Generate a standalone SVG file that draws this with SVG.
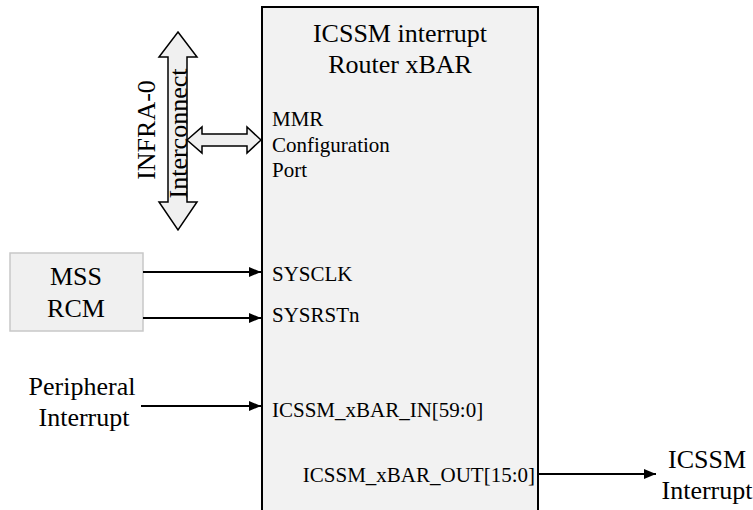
<svg xmlns="http://www.w3.org/2000/svg" width="753" height="510" viewBox="0 0 753 510">
<defs>
<style>
text{font-family:"Liberation Serif","Times New Roman",serif;fill:#000}
.lbl{font-size:21px}
.big{font-size:26px}
.wire{stroke:#000;stroke-width:2;fill:none}
.bus{fill:#f0f0f0;stroke:#000;stroke-width:1.5;stroke-linejoin:miter}
</style>
<marker id="ah" viewBox="0 0 12 10" refX="12" refY="5" markerWidth="12" markerHeight="10" markerUnits="userSpaceOnUse" orient="auto">
<path d="M0,0 L12,5 L0,10 Z" fill="#000"/>
</marker>
</defs>
<rect width="753" height="510" fill="#fff"/>

<g id="router">
<rect x="262" y="7" width="276" height="520" fill="#f2f2f2" stroke="#000" stroke-width="2"/>
<text class="big" x="400" y="42" text-anchor="middle">ICSSM interrupt</text>
<text class="big" x="400" y="73" text-anchor="middle">Router xBAR</text>
<text class="lbl" x="272" y="126">MMR</text>
<text class="lbl" x="272" y="152">Configuration</text>
<text class="lbl" x="272" y="177">Port</text>
<text class="lbl" x="272" y="281">SYSCLK</text>
<text class="lbl" x="272" y="322">SYSRSTn</text>
<text class="lbl" x="272" y="417">ICSSM_xBAR_IN[59:0]</text>
<text class="lbl" x="535" y="482" text-anchor="end">ICSSM_xBAR_OUT[15:0]</text>
</g>

<g id="infra">
<path class="bus" d="M178,32 L197,57 L187,57 L187,202 L197,202 L178,230 L159,202 L168,202 L168,57 L159,57 Z"/>
<text class="big" transform="translate(155,130) rotate(-90)" text-anchor="middle">INFRA-0</text>
<text class="big" transform="translate(187,133.5) rotate(-90)" text-anchor="middle">Interconnect</text>
</g>

<g id="mss-rcm">
<rect x="10" y="253" width="133" height="78" fill="#f0f0f0" stroke="#c8c8c8" stroke-width="1.5"/>
<text class="big" x="76" y="285" text-anchor="middle">MSS</text>
<text class="big" x="76" y="317" text-anchor="middle">RCM</text>
</g>

<g id="peripheral">
<text class="big" x="82" y="395" text-anchor="middle">Peripheral</text>
<text class="big" x="84" y="426" text-anchor="middle">Interrupt</text>
</g>

<g id="icssm-out">
<text class="big" x="707" y="468" text-anchor="middle">ICSSM</text>
<text class="big" x="707" y="499" text-anchor="middle">Interrupt</text>
</g>

<g id="connectors">
<path class="bus" d="M187,140 L202,127 L202,134 L247,134 L247,127 L261,140 L247,153 L247,146 L202,146 L202,153 Z"/>
<line class="wire" x1="143" y1="272" x2="261" y2="272" marker-end="url(#ah)"/>
<line class="wire" x1="143" y1="318" x2="261" y2="318" marker-end="url(#ah)"/>
<line class="wire" x1="141" y1="406" x2="261" y2="406" marker-end="url(#ah)"/>
<line class="wire" x1="538" y1="474" x2="656" y2="474" marker-end="url(#ah)"/>
</g>
</svg>
